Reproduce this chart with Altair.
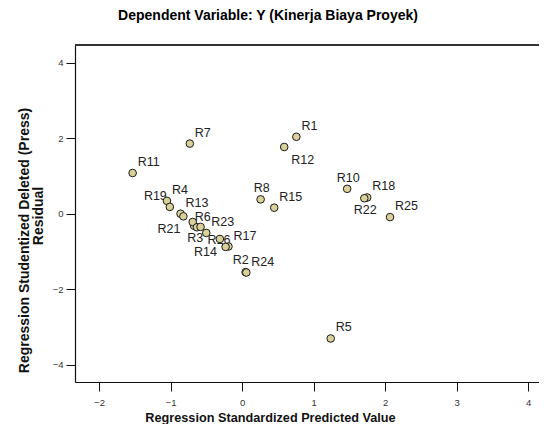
import altair as alt
import pandas as pd

# ---- data ----
cases = ["R1", "R2", "R3", "R4", "R5", "R6", "R7", "R8", "R9", "R10",
         "R11", "R12", "R13", "R14", "R15", "R16", "R17", "R18", "R19", "R20",
         "R21", "R22", "R23", "R24", "R25"]
predicted = [0.76, 0.05, -0.67, -1.05, 1.24, -0.69, -0.73, 0.26, -0.63, 1.47,
             -1.53, 0.59, -0.86, -0.31, 0.45, -0.58, -0.19, 1.75, -1.01, -0.23,
             -0.82, 1.71, -0.50, 0.06, 2.07]
residual = [2.04, -1.55, -0.32, 0.34, -3.31, -0.22, 1.86, 0.38, -0.36, 0.66,
            1.08, 1.77, 0.00, -0.67, 0.16, -0.35, -0.87, 0.43, 0.18, -0.88,
            -0.07, 0.41, -0.51, -1.56, -0.09]
# where each case label sits relative to its marker (style)
label_place = ["ur", "ulr", "lc", "ur", "ur", "rt", "ur", "uc", "none", "uc",
               "ur", "lr", "ur", "ll", "ur", "lr", "ur", "ur", "ul", "none",
               "ll", "lc", "ur", "ur", "ur"]

x_ticks = [-2, -1, 0, 1, 2, 3, 4]
y_ticks = [-4, -2, 0, 2, 4]

# placement styles: align, dx, dy
placements = {
    "ur": ("left", 5, -11),
    "uc": ("center", 1, -11),
    "ul": ("right", -3, -11),
    "ulr": ("right", 3, -12),
    "lr": ("left", 7, 13),
    "lc": ("center", 1, 12),
    "ll": ("right", -3, 13),
    "rt": ("left", 2, -5),
}

df = pd.DataFrame({"case": cases, "pred": predicted, "res": residual,
                   "place": label_place})

W, H = 464, 337
FONT = "Liberation Sans"

xs = alt.X("pred:Q",
           scale=alt.Scale(domain=[-2.336, 4.153], nice=False, zero=False),
           axis=alt.Axis(values=x_ticks, title="Regression Standardized Predicted Value",
                         titlePadding=5, labelPadding=6, titleFontSize=12.7,
                         titleX=195, titleAlign="center"))
ys = alt.Y("res:Q",
           scale=alt.Scale(domain=[-4.464, 4.475], nice=False, zero=False),
           axis=alt.Axis(values=y_ticks,
                         title="Regression Studentized Deleted (Press)",
                         labelPadding=3, titleFontSize=14,
                         titleX=-51, titleY=195, titleAlign="center",
                         titleBaseline="middle", titleAngle=270))

base = alt.Chart(df)

label_layers = []
for key, (al, dx, dy) in placements.items():
    label_layers.append(
        base.transform_filter(alt.datum.place == key)
        .mark_text(align=al, baseline="middle", dx=dx, dy=dy, fontSize=12.5,
                   font=FONT, color="#222222")
        .encode(x=xs, y=ys, text="case:N")
    )

points = base.mark_circle(size=58, opacity=1, fill="#d9d09a", stroke="#1a1a1a",
                          strokeWidth=1).encode(x=xs, y=ys)

top_frame = alt.Chart(df).mark_rule(color="#333333", strokeWidth=1.2).encode(
    x=alt.value(0), x2=alt.value(W), y=alt.value(0))

# second line of the y-axis title
title_line2 = alt.Chart(pd.DataFrame({"t": ["Residual"]})).mark_text(
    angle=270, align="center", baseline="middle", font=FONT, fontSize=14,
    fontWeight="bold", color="#111111").encode(
    text="t:N", x=alt.value(-36), y=alt.value(171))

chart = alt.layer(top_frame, *label_layers, points, title_line2).properties(
    width=W, height=H,
    title=alt.TitleParams("Dependent Variable: Y (Kinerja Biaya Proyek)",
                          font=FONT, fontSize=14, fontWeight="bold",
                          anchor="middle", frame="group", offset=21, dx=-39),
    autosize=alt.AutoSizeParams(type="none"),
    padding={"left": 67, "top": 37, "right": 0, "bottom": 42},
).configure_view(stroke=None, clip=False).configure_axis(
    grid=False, domainColor="#111111", domainWidth=1.2,
    tickColor="#111111", tickSize=9, tickWidth=1,
    labelFont=FONT, labelFontSize=9.5, labelColor="#333333",
    titleFont=FONT, titleFontWeight="bold", titleColor="#111111",
)

chart.save("out.html", embed_options={"renderer": "svg", "actions": False})
